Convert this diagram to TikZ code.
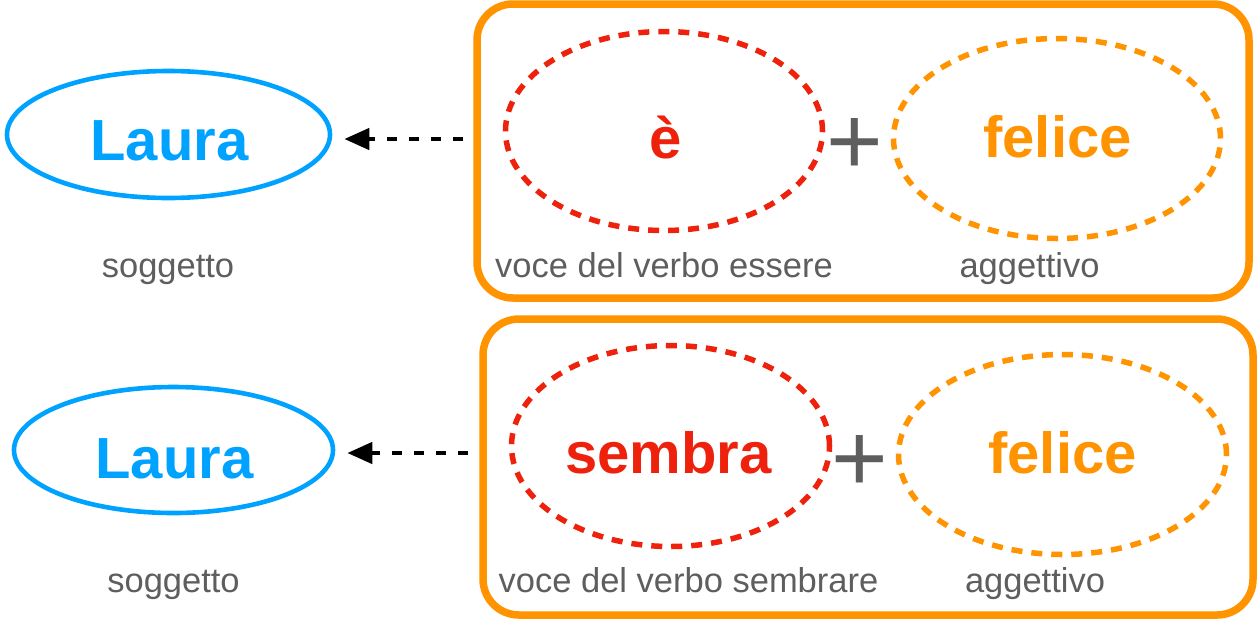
\documentclass[tikz,border=0pt]{standalone}
\usepackage{fontspec}
\setmainfont{Liberation Sans}
\usetikzlibrary{shapes.geometric,arrows.meta}
\definecolor{cblue}{RGB}{0,162,255}
\definecolor{cred}{RGB}{238,34,12}
\definecolor{corange}{RGB}{255,147,0}
\definecolor{cgray}{RGB}{94,94,94}
\tikzset{
  subj/.style={ellipse, draw=cblue, line width=4.6pt, inner sep=0pt},
  verbell/.style={ellipse, draw=cred, line width=5.5pt, dash pattern=on 11pt off 9pt, inner sep=0pt},
  adjell/.style={ellipse, draw=corange, line width=5.5pt, dash pattern=on 11pt off 9pt, inner sep=0pt},
  groupbox/.style={draw=corange, line width=7.5pt, rounded corners=36pt},
  bigword/.style={font=\fontsize{58}{58}\selectfont\bfseries, inner sep=0pt, anchor=base},
  lbl/.style={font=\fontsize{34.5}{34.5}\selectfont, text=cgray, inner sep=0pt, anchor=base},
  plussign/.style={font=\fontsize{97}{97}\selectfont, text=cgray, inner sep=0pt, anchor=base},
  dasharr/.style={draw=black, line width=4.5pt, dash pattern=on 10pt off 12pt, -{Triangle[length=25pt,width=21pt]}}
}
\begin{document}
\begin{tikzpicture}[x=1pt,y=-1pt]
\useasboundingbox (0,0) rectangle (1257,622);
% ---- top row ----
\node[groupbox, minimum width=772pt, minimum height=294pt] (box1) at (863,151) {};
\node[subj, minimum width=323pt, minimum height=127pt] (e1) at (168.5,134.5) {};
\node[bigword, text=cblue] (laura1) at (169.5,160) {Laura};
\node[verbell, minimum width=317pt, minimum height=199pt] (v1) at (664,131) {};
\node[bigword, text=cred] (verb1) at (666,158) {è};
\node[plussign] (plus1) at (855,174) {+};
\node[adjell, minimum width=327pt, minimum height=200pt] (a1) at (1057,138.5) {};
\node[bigword, text=corange] (adj1) at (1057.5,157) {felice};
\node[lbl] (sogg1) at (168,277) {soggetto};
\node[lbl] (voce1) at (664,277) {voce del verbo essere};
\node[lbl] (agg1) at (1029.5,277) {aggettivo};
\coordinate (s1) at (463,139);
\draw[dasharr] (s1) -- ([xshift=12pt]e1.east |- s1);
% ---- bottom row ----
\node[groupbox, minimum width=770pt, minimum height=296pt] (box2) at (868,467) {};
\node[subj, minimum width=319pt, minimum height=126pt] (e2) at (173.5,450) {};
\node[bigword, text=cblue] (laura2) at (174.5,478) {Laura};
\node[verbell, minimum width=318pt, minimum height=201pt] (v2) at (670.5,446) {};
\node[bigword, text=cred] (verb2) at (668.5,473) {sembra};
\node[plussign] (plus2) at (860,491) {+};
\node[adjell, minimum width=328pt, minimum height=200pt] (a2) at (1062.5,454.5) {};
\node[bigword, text=corange] (adj2) at (1062.5,473) {felice};
\node[lbl] (sogg2) at (173.5,592) {soggetto};
\node[lbl] (voce2) at (688.5,592) {voce del verbo sembrare};
\node[lbl] (agg2) at (1035,592) {aggettivo};
\coordinate (s2) at (468,453);
\draw[dasharr] (s2) -- ([xshift=12pt]e2.east |- s2);
\end{tikzpicture}
\end{document}
